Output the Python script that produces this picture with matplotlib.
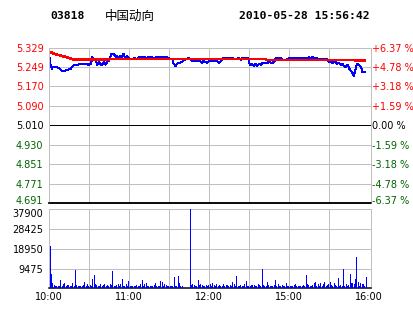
import matplotlib
matplotlib.use("Agg")
import matplotlib.pyplot as plt
import matplotlib.transforms as mtransforms
import numpy as np

# ---------------- data ----------------
code = "03818"
name = "中国动向"
stamp = "2010-05-28 15:56:42"
prev_close = 5.010

price_ticks = [4.691, 4.771, 4.851, 4.930, 5.010, 5.090, 5.170, 5.249, 5.329]
price_labels = ["4.691", "4.771", "4.851", "4.930", "5.010", "5.090", "5.170", "5.249", "5.329"]
pct_labels = ["-6.37 %", "-4.78 %", "-3.18 %", "-1.59 %", "0.00 %", "+1.59 %", "+3.18 %", "+4.78 %", "+6.37 %"]

vol_ticks = [0, 9475, 18950, 28425, 37900]
vol_labels = ["", "9475", "18950", "28425", "37900"]

time_ticks = [0, 60, 120, 180, 240]
time_labels = ["10:00", "11:00", "12:00", "15:00", "16:00"]

# (minutes from 10:00 with lunch break removed, price)
price_points = [
    (0, 5.313), (1, 5.249), (1.5, 5.259), (2, 5.242), (3, 5.249), (4, 5.249), (6, 5.249), (8, 5.242),
    (10, 5.231), (12, 5.231), (13, 5.238), (16, 5.240), (17, 5.249), (19, 5.259), (22, 5.259),
    (23.5, 5.263), (27, 5.263), (28.5, 5.263), (29.5, 5.256), (30.5, 5.263), (31.5, 5.263),
    (32.5, 5.290), (33.5, 5.283), (35, 5.283), (36, 5.259), (37.5, 5.270), (39, 5.259), (40, 5.259),
    (41, 5.270), (42.5, 5.259), (43.5, 5.270), (45, 5.276), (46, 5.290), (47, 5.304), (48.5, 5.304),
    (50, 5.290), (51, 5.294), (52, 5.286), (53.5, 5.294), (55, 5.290), (56, 5.304), (57, 5.286),
    (58.5, 5.294), (60, 5.283), (62, 5.281), (64, 5.286), (66, 5.281), (68, 5.290), (71, 5.290),
    (73, 5.286), (75, 5.290), (76, 5.290), (78.5, 5.286), (81, 5.290), (85, 5.290), (88, 5.290),
    (89.5, 5.286), (91, 5.281), (92.5, 5.281), (93.5, 5.263), (95, 5.253), (96, 5.263), (98, 5.266),
    (100, 5.270), (101, 5.276), (103, 5.281), (105, 5.286), (106, 5.281), (107, 5.274), (113, 5.274),
    (115, 5.267), (116, 5.274), (118.5, 5.267), (120, 5.274), (126, 5.274), (127.5, 5.267),
    (129, 5.274), (131, 5.287), (137.5, 5.287), (139, 5.281), (141, 5.281), (142.5, 5.287),
    (144, 5.278), (145, 5.287), (149.5, 5.287), (150, 5.281), (150.5, 5.256), (152, 5.260),
    (154, 5.253), (155, 5.263), (156, 5.253), (157.5, 5.263), (159, 5.257), (160, 5.267),
    (164, 5.267), (165, 5.270), (167, 5.265), (169, 5.270), (170, 5.287), (174, 5.287),
    (175, 5.276), (177.5, 5.276), (180, 5.286), (182.5, 5.286), (184, 5.281), (185, 5.286),
    (189, 5.286), (190, 5.281), (191, 5.288), (194, 5.286), (195, 5.290), (196, 5.281),
    (197.5, 5.290), (199, 5.283), (200, 5.288), (202.5, 5.281), (208.5, 5.281), (210, 5.270),
    (211, 5.274), (212.5, 5.267), (215, 5.270), (216, 5.263), (217.5, 5.267), (219, 5.256),
    (220, 5.263), (221, 5.253), (222.5, 5.249), (224, 5.259), (225, 5.245), (226, 5.235),
    (227.5, 5.226), (228.75, 5.212), (230, 5.242), (231, 5.263), (232.5, 5.259), (234, 5.249),
    (235, 5.229), (237, 5.229),
]
price_t = [p[0] for p in price_points]
price_v = [p[1] for p in price_points]

avg_t = [0, 3, 6, 10, 14, 18, 45, 46, 162, 163, 229, 230, 237]
avg_v = [5.313, 5.305, 5.300, 5.294, 5.288, 5.280, 5.280, 5.282, 5.282, 5.278, 5.278, 5.275, 5.275]

volume = [
    20300, 6900, 2600, 1500, 1100, 1100, 1200, 1000, 3800, 1100, 1900, 2600, 1100, 1600, 1400, 1100, 1200, 2600, 1100, 8800,
    1600, 1100, 1000, 1200, 1100, 1400, 3000, 1200, 1900, 1100, 1400, 1100, 4500, 6400, 1900, 1500, 1100, 1300, 1900, 1100,
    1500, 1900, 1100, 1600, 1200, 1900, 1400, 8300, 1300, 1100, 1600, 1900, 1100, 2100, 4500, 1300, 1100, 1900, 1200, 3500,
    1200, 1100, 1100, 1300, 1000, 1700, 1200, 1100, 1900, 3800, 1300, 1900, 2600, 1200, 1100, 1000, 1300, 1100, 1400, 2600,
    1300, 1200, 1100, 3500, 3000, 1200, 2100, 1600, 1300, 1100, 1200, 1100, 1300, 5400, 1300, 1200, 5900, 2400, 1100, 1100,
    0, 0, 0, 0, 0, 37900, 1600, 2000, 1700, 1200, 1300, 3800, 1400, 2100, 1600, 1300, 1100, 1400, 1300, 1700,
    1900, 1200, 2600, 1700, 1300, 2000, 1100, 1700, 1100, 1300, 1900, 1200, 1400, 1600, 1100, 1500, 1300, 3000, 1900, 1200,
    5900, 1300, 1100, 1600, 1300, 1200, 1900, 3500, 1300, 1200, 1100, 1400, 1600, 1400, 1300, 1200, 1900, 1400, 1100, 9300,
    1600, 1200, 1300, 3000, 1400, 1100, 1100, 1200, 1500, 4000, 1300, 1900, 1200, 1100, 1400, 1300, 1100, 2600, 1300, 1100,
    1200, 1300, 1100, 1500, 1900, 1300, 1100, 1200, 1300, 1100, 1400, 1300, 6400, 1900, 1600, 1300, 1100, 1400, 2400, 3000,
    1300, 1900, 1200, 2400, 1300, 1900, 2800, 1300, 1600, 2200, 3000, 1400, 1300, 2600, 1700, 1200, 5000, 1300, 1800, 1100,
    9300, 1300, 1900, 1200, 1600, 6900, 2600, 2600, 1900, 4500, 15000, 3000, 1300, 2600, 2200, 2000, 1300, 5400, 0, 0,
    0]

# ---------------- style ----------------
W, H = 414, 314
fig = plt.figure(figsize=(W / 100, H / 100), dpi=100)
fig.patch.set_facecolor("white")

GRID = "#c0c0c0"
RED = "#ff0000"
GREEN = "#006400"
BLUE = "#0000ff"
FS = 7
PX = 0.72  # one pixel in points at 100 dpi


def frac(x0, y0, x1, y1):
    return [x0 / W, 1 - y1 / H, (x1 - x0) / W, (y1 - y0) / H]


def label_color(v):
    if v > prev_close + 1e-9:
        return RED
    if v < prev_close - 1e-9:
        return GREEN
    return "black"


def nudge(label, dy_px):
    label.set_transform(label.get_transform() +
                        mtransforms.ScaledTranslation(0, dy_px / 100, fig.dpi_scale_trans))


xmax = 241.5
grid_x = np.arange(30, 240, 30)

# ---------------- price panel ----------------
ax = fig.add_axes(frac(49, 47.5, 371, 203.3))
ax.set_xlim(0, xmax)
ax.set_ylim(price_ticks[0], price_ticks[-1])
for y in price_ticks[1:-1]:
    if abs(y - prev_close) > 1e-9:
        ax.axhline(y, color=GRID, lw=PX, antialiased=False, zorder=1)
for x in grid_x:
    ax.axvline(x, color=GRID, lw=PX, antialiased=False, zorder=1)
ax.axhline(prev_close, color="black", lw=PX, antialiased=False, zorder=2)
ax.plot(price_t, price_v, color=BLUE, lw=PX, antialiased=False, zorder=3)
ax.plot(avg_t, avg_v, color=RED, lw=PX * 1.6, antialiased=False, zorder=4)

ax.set_yticks(price_ticks)
ax.set_yticklabels(price_labels, fontsize=FS, family="DejaVu Sans")
ax.tick_params(axis="y", length=0, pad=4)
ax.set_xticks([])
for lab, v in zip(ax.get_yticklabels(), price_ticks):
    lab.set_color(label_color(v))

axr = ax.twinx()
axr.set_ylim(ax.get_ylim())
axr.set_yticks(price_ticks)
axr.set_yticklabels(pct_labels, fontsize=FS, family="DejaVu Sans")
axr.tick_params(axis="y", length=0, pad=1)
for lab, v in zip(axr.get_yticklabels(), price_ticks):
    lab.set_color(label_color(v))

for a in (ax, axr):
    for s in ("top", "left", "right"):
        a.spines[s].set_color(GRID)
        a.spines[s].set_linewidth(PX)
    a.spines["bottom"].set_color("black")
    a.spines["bottom"].set_linewidth(PX * 1.5)

# ---------------- volume panel ----------------
av = fig.add_axes(frac(49, 209.3, 371, 288.3))
av.set_xlim(0, xmax)
av.set_ylim(0, vol_ticks[-1])
for y in vol_ticks[1:-1]:
    av.axhline(y, color=GRID, lw=PX, antialiased=False, zorder=1)
for x in grid_x:
    av.axvline(x, color=GRID, lw=PX, antialiased=False, zorder=1)
av.vlines(np.arange(len(volume)) + 0.4, 0, volume, color=BLUE, lw=PX,
          antialiased=False, zorder=3)
av.set_yticks(vol_ticks)
av.set_yticklabels(vol_labels, fontsize=FS, family="DejaVu Sans")
av.set_xticks(time_ticks)
av.set_xticklabels(time_labels, fontsize=FS, family="DejaVu Sans")
av.tick_params(axis="y", length=0, pad=4)
av.tick_params(axis="x", length=0, pad=3)
for s in ("top", "left", "right"):
    av.spines[s].set_color(GRID)
    av.spines[s].set_linewidth(PX)
av.spines["bottom"].set_color("black")
av.spines["bottom"].set_linewidth(PX * 1.5)

# keep the edge labels apart, as in the reference
nudge(ax.get_yticklabels()[0], 3)
nudge(axr.get_yticklabels()[0], 3)
nudge(av.get_yticklabels()[-1], -3.5)

# ---------------- header ----------------
fig.text(50 / W, 1 - 16 / H, code, fontsize=8.2, family="DejaVu Sans Mono",
         weight="bold", va="center", ha="left")
fig.text(105 / W, 1 - 16 / H, name, fontsize=9, family=["Noto Sans CJK SC", "DejaVu Sans"],
         va="center", ha="left")
fig.text(370 / W, 1 - 16 / H, stamp, fontsize=8.2, family="DejaVu Sans Mono",
         weight="bold", va="center", ha="right")

fig.savefig("out.png", dpi=100, facecolor="white")
